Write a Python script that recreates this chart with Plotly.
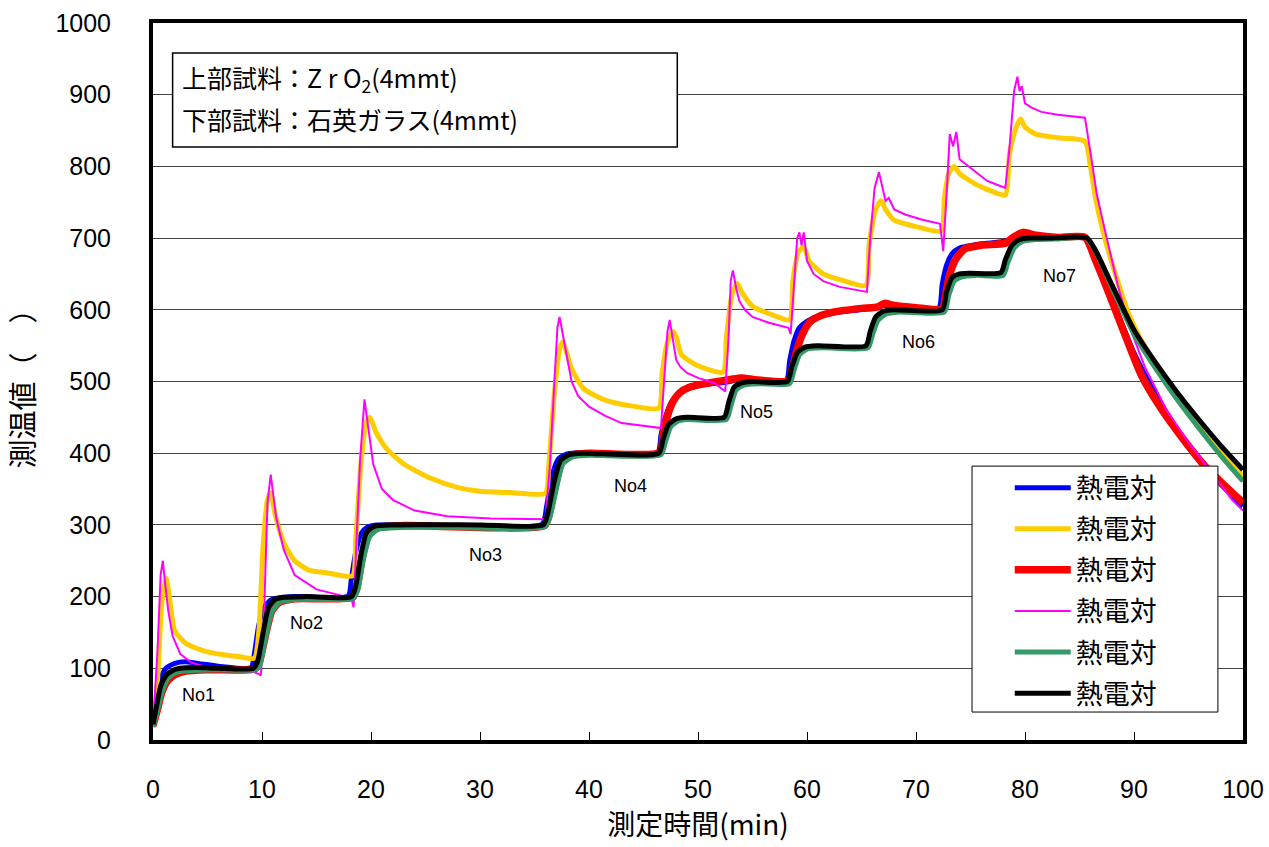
import plotly.graph_objects as go

# Temperature histories (time in min, temperature) for six thermocouples
TC_BLUE = [(0, 20), (0.3, 50), (0.7, 85), (1.2, 100), (2, 107), (3, 109), (4.5, 106), (6, 103),
           (9.0, 101), (9.3, 120), (9.7, 160), (10.2, 185), (10.8, 195), (11.5, 198), (13, 200),
           (17.9, 201), (18.2, 225), (18.6, 262), (19.1, 288), (19.7, 297), (20.5, 300), (25, 300),
           (35.7, 301), (36.1, 325), (36.6, 368), (37.2, 392), (38, 399), (39.5, 401),
           (46.3, 401), (46.6, 425), (47.0, 450), (47.6, 472), (48.5, 486), (50, 494), (52.5, 499),
           (54, 503), (58.1, 502), (58.4, 528), (58.8, 556), (59.3, 575), (60, 584), (61, 591),
           (63, 597), (66.5, 603), (67, 606), (70, 602), (72.1, 603), (72.4, 635), (72.8, 662),
           (73.3, 678), (74, 686), (76, 692), (78.3, 696), (79.2, 703), (80, 702), (82, 701),
           (85.5, 701), (86.5, 672), (88, 615), (90, 540), (92, 482), (94, 432), (96, 390),
           (98, 356), (100, 326)]

TC_YELLOW = [(0, 20), (0.4, 80), (0.8, 190), (1.2, 226), (1.5, 200), (2, 152), (3, 135), (4, 128),
             (5, 123), (6.5, 119), (8, 116), (9.3, 114), (9.7, 150), (10.1, 270), (10.5, 335),
             (10.8, 345), (11.2, 315), (12, 275), (13, 250), (14.3, 237), (16, 233), (18.3, 229),
             (18.6, 280), (19.1, 390), (19.6, 445), (19.9, 450), (20.5, 428), (21.5, 405),
             (23, 385), (25.5, 365), (28, 352), (30, 347), (33, 345), (36, 344), (36.3, 380),
             (36.8, 480), (37.3, 545), (37.6, 555), (38.4, 518), (39.5, 490), (41.5, 474),
             (43.5, 467), (46.4, 463), (46.7, 510), (47.2, 555), (47.7, 570), (48, 562),
             (48.5, 537), (50, 522), (52.3, 513), (52.6, 560), (53.1, 620), (53.6, 637),
             (54, 625), (55, 605), (57, 592), (58.4, 586), (58.7, 640), (59.2, 680), (59.7, 688),
             (60.2, 668), (61.5, 650), (63.5, 640), (65.4, 634), (65.7, 690), (66.3, 740),
             (66.8, 752), (67.2, 740), (68, 725), (70, 716), (72.3, 710), (72.6, 755), (73.0, 790),
             (73.5, 800), (74, 790), (75.5, 775), (77.5, 762), (78.2, 760), (78.6, 820),
             (79.2, 855), (79.6, 866), (80, 855), (81, 845), (83, 840), (85.5, 835), (86, 800),
             (86.5, 753), (87.5, 690), (88.5, 640), (89.5, 595), (91, 548), (93, 500), (95, 455),
             (97, 420), (99, 385), (100, 368)]

TC_RED = [(0, 20), (0.4, 42), (0.8, 66), (1.3, 82), (2, 91), (3, 96), (5, 98), (9.3, 99),
          (9.7, 106), (10.3, 145), (10.9, 180), (11.6, 192), (13, 197), (18.3, 199), (18.7, 212),
          (19.2, 255), (19.8, 287), (20.6, 296), (23, 299), (35.9, 299), (36.3, 312), (36.9, 355),
          (37.5, 387), (38.3, 397), (40, 400), (46.5, 401), (46.8, 425), (47.2, 452), (47.7, 472),
          (48.3, 484), (49.2, 492), (51, 498), (53, 503), (54, 505), (55.5, 502), (58.3, 501),
          (58.6, 515), (59.0, 540), (59.5, 563), (60.2, 582), (61, 590), (62.5, 597), (65, 602),
          (66.5, 604), (67.1, 609), (68, 606), (70, 603), (72.4, 601), (72.7, 620), (73.1, 650),
          (73.7, 672), (74.5, 685), (76, 690), (78.2, 693), (79, 702), (79.8, 708), (81, 704),
          (83, 701), (85.5, 701), (86.5, 668), (87.7, 623), (89, 572), (90.7, 508), (92.5, 462),
          (94.5, 420), (96.5, 382), (98.3, 355), (100, 331)]

TC_MAGENTA = [(0, 20), (0.4, 120), (0.7, 230), (0.9, 250), (1.1, 220), (1.4, 180), (1.8, 145),
              (2.5, 120), (3.5, 108), (5, 101), (7, 97), (9.2, 95), (9.7, 92), (9.9, 90),
              (10.2, 180), (10.5, 330), (10.8, 370), (11.3, 310), (12, 265), (13, 230), (15, 210),
              (17, 202), (18.2, 198), (18.4, 185), (18.6, 250), (19.0, 390), (19.4, 475),
              (19.7, 440), (20.2, 385), (21, 350), (22, 335), (24, 320), (27, 312), (31, 309),
              (36, 308), (36.4, 380), (36.8, 500), (37.1, 575), (37.3, 590), (37.6, 565),
              (38.0, 530), (38.4, 500), (39, 480), (40, 465), (41.5, 452), (43, 442), (46.6, 435),
              (46.9, 500), (47.2, 570), (47.4, 586), (47.7, 555), (48.0, 530), (48.4, 520),
              (49, 512), (50, 505), (51.5, 498), (52.5, 486), (52.8, 560), (53.0, 640),
              (53.2, 655), (53.5, 630), (53.8, 612), (54.3, 600), (55, 590), (56.5, 582),
              (58.3, 575), (58.5, 566), (58.8, 630), (59.1, 700), (59.3, 708), (59.5, 690),
              (59.7, 708), (60.0, 668), (60.6, 650), (61.5, 640), (63, 632), (65.5, 625),
              (65.8, 700), (66.2, 770), (66.6, 792), (66.9, 770), (67.2, 752), (67.5, 756),
              (68.0, 740), (69, 733), (70.5, 726), (72.2, 720), (72.5, 682), (72.8, 760),
              (73.1, 845), (73.4, 828), (73.7, 848), (74.0, 810), (74.4, 805), (75.2, 795),
              (76.5, 780), (77.5, 774), (78.2, 770), (78.6, 830), (79.0, 905), (79.3, 925),
              (79.5, 905), (79.7, 912), (80.0, 888), (80.6, 882), (81.5, 876), (83, 872),
              (85.5, 868), (86, 820), (86.6, 760), (87.5, 700), (88.5, 635), (89.5, 580),
              (91, 520), (93, 460), (95, 415), (97, 375), (99, 335), (100, 320)]

TC_GREEN = [(0, 18), (0.4, 40), (0.9, 70), (1.5, 88), (2.3, 95), (3.5, 97), (6, 98), (9.4, 98),
            (9.8, 104), (10.3, 140), (10.9, 178), (11.6, 192), (13, 196), (18.4, 198), (18.8, 210),
            (19.3, 252), (19.9, 284), (20.7, 294), (25, 297), (36.0, 298), (36.4, 310), (37.0, 350),
            (37.6, 385), (38.5, 395), (40, 397), (46.6, 398), (47.0, 415), (47.5, 437), (48.2, 445),
            (49, 447), (52.6, 447), (53.0, 465), (53.5, 488), (54.2, 495), (55.5, 497), (58.4, 497),
            (58.8, 515), (59.3, 537), (60, 545), (61.5, 547), (65.6, 547), (66.0, 565), (66.5, 585),
            (67.2, 594), (68.5, 597), (72.6, 597), (73.0, 620), (73.5, 640), (74.2, 646),
            (75.5, 648), (78.0, 648), (78.4, 665), (79.0, 686), (79.7, 695), (81, 698), (83, 699),
            (85.6, 700), (86.5, 681), (88, 630), (90, 566), (92, 518), (94, 474), (96, 434),
            (98, 396), (100, 361)]

TC_BLACK = [(0, 22), (0.3, 45), (0.7, 75), (1.2, 90), (1.8, 97), (2.5, 100), (4, 101), (6, 100),
            (9.2, 100), (9.6, 110), (10.1, 150), (10.6, 185), (11.2, 196), (12, 199), (14, 200),
            (18.2, 200), (18.6, 215), (19.1, 260), (19.6, 290), (20.3, 298), (22, 300), (30, 300),
            (35.8, 300), (36.2, 315), (36.8, 360), (37.4, 390), (38.2, 398), (39.5, 400),
            (46.4, 400), (46.8, 420), (47.3, 440), (48, 448), (49, 450), (52.4, 450), (52.8, 470),
            (53.3, 492), (54, 498), (55, 500), (58.2, 500), (58.6, 520), (59.1, 540), (59.8, 548),
            (61, 550), (65.4, 550), (65.8, 570), (66.3, 590), (67, 598), (68, 600), (72.4, 600),
            (72.8, 625), (73.3, 645), (74, 650), (75, 651), (77.8, 652), (78.2, 670), (78.8, 690),
            (79.5, 698), (80.5, 700), (82, 700), (85.7, 700), (86.5, 682), (88, 634), (90, 572),
            (92, 526), (94, 484), (96, 446), (98, 410), (100, 377)]

SERIES_NAME = "熱電対"
STAGE_LABELS = ["No1", "No2", "No3", "No4", "No5", "No6", "No7"]
STAGE_X = [4.2, 14.1, 30.5, 43.8, 55.4, 70.2, 83.2]
STAGE_Y = [63, 163, 258, 354, 457, 555, 647]

NUM_FONT = "Liberation Sans, Arial, sans-serif"
JP_FONT = "Noto Sans CJK JP, sans-serif"

traces = [
    (TC_BLUE, "#0000FF", 5, "spline"),
    (TC_YELLOW, "#FFCC00", 5, "spline"),
    (TC_RED, "#FF0000", 7.5, "spline"),
    (TC_MAGENTA, "#FF00FF", 2, "linear"),
    (TC_GREEN, "#339966", 5, "spline"),
    (TC_BLACK, "#000000", 5, "spline"),
]

fig = go.Figure()
for i, (pts, color, width, shape) in enumerate(traces):
    t, temp = zip(*pts)
    fig.add_trace(go.Scatter(
        x=list(t), y=list(temp), mode="lines", name=SERIES_NAME,
        legendgroup=f"g{i}",
        line=dict(color=color, width=width, shape=shape,
                  smoothing=0.6 if shape == "spline" else None),
    ))

for label, lx, ly in zip(STAGE_LABELS, STAGE_X, STAGE_Y):
    fig.add_annotation(x=lx, y=ly, text=label, showarrow=False,
                       font=dict(family=NUM_FONT, size=18, color="black"))

# Sample description box
fig.add_shape(type="rect", xref="paper", yref="paper",
              x0=0.018, x1=0.481, y0=0.827, y1=0.958,
              line=dict(color="black", width=1.5), fillcolor="white", layer="above")
fig.add_annotation(xref="paper", yref="paper", x=0.0245, y=0.923, xanchor="left", yanchor="middle",
                   align="left", showarrow=False,
                   text="上部試料：Z r O<sub>2</sub>(4mmt)",
                   font=dict(family=JP_FONT, size=25, color="black"))
fig.add_annotation(xref="paper", yref="paper", x=0.0245, y=0.866, xanchor="left", yanchor="middle",
                   align="left", showarrow=False,
                   text="下部試料：石英ガラス(4mmt)",
                   font=dict(family=JP_FONT, size=25, color="black"))

# Legend frame
fig.add_shape(type="rect", xref="paper", yref="paper",
              x0=0.7514, x1=0.977, y0=0.039, y1=0.382,
              line=dict(color="black", width=1), fillcolor="white", layer="above")

fig.update_layout(
    width=1269, height=847, autosize=False,
    margin=dict(l=153, r=26, t=23, b=107),
    paper_bgcolor="white", plot_bgcolor="white",
    font=dict(family=NUM_FONT, size=22, color="black"),
    showlegend=True,
    legend=dict(x=0.786, y=0.3855, xanchor="left", yanchor="top",
                borderwidth=0, bgcolor="rgba(0,0,0,0)",
                font=dict(family=JP_FONT, size=27),
                tracegroupgap=3, itemwidth=56),
    xaxis=dict(range=[0, 100], dtick=10, tick0=0, ticks="inside", ticklen=8,
               tickwidth=1, tickcolor="black", showgrid=False, zeroline=False,
               showline=True, linewidth=4, linecolor="black", mirror=True,
               automargin=False,
               tickfont=dict(family=NUM_FONT, size=25), ticklabelstandoff=24,
               title=dict(text="測定時間(min)", standoff=14,
                          font=dict(family=JP_FONT, size=28))),
    yaxis=dict(range=[0, 1000], dtick=100, tick0=0, ticks="", showgrid=True,
               gridcolor="#444444", gridwidth=1, zeroline=False,
               showline=True, linewidth=4, linecolor="black", mirror=True,
               automargin=False,
               tickfont=dict(family=NUM_FONT, size=25), ticklabelstandoff=33,
               title=dict(text="測温値（　）", standoff=18,
                          font=dict(family=JP_FONT, size=29))),
)

fig.write_html("out.html")
